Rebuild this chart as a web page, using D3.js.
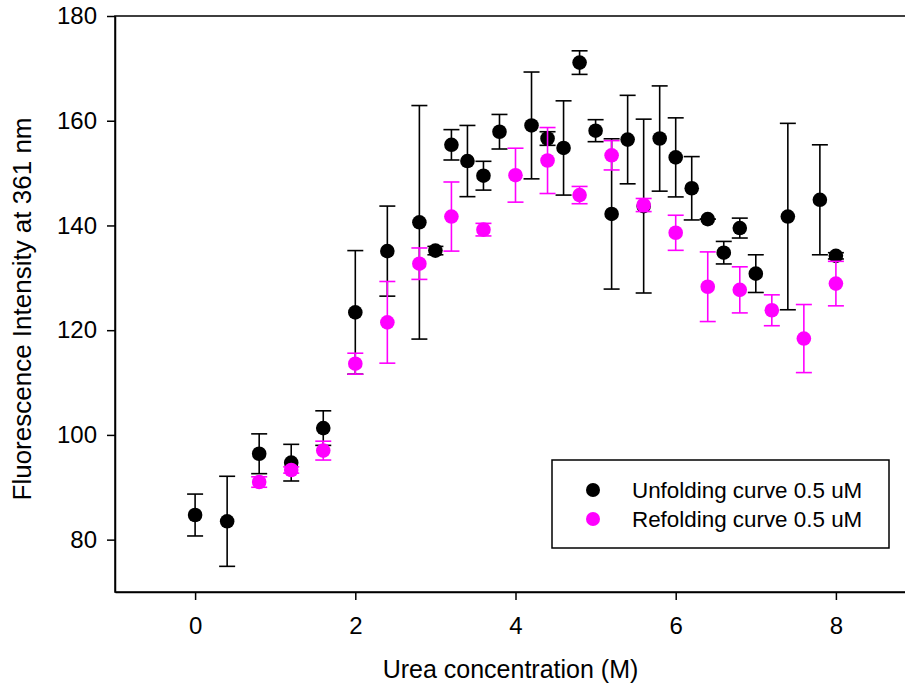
<!DOCTYPE html>
<html>
<head>
<meta charset="utf-8">
<script src="https://cdn.jsdelivr.net/npm/d3@7"></script>
<style>
    body { margin: 0; background: #fff; }
    svg { display: block; font-family: "Liberation Sans", Arial, sans-serif; }
</style>
</head>
<body>
<div id="chart"></div>
<script>
// urea concentration (M) for each series
const unfoldX = [0, 0.4, 0.8, 1.2, 1.6, 2.0, 2.4, 2.8, 3.0, 3.2, 3.4, 3.6, 3.8, 4.2, 4.4, 4.6,
    4.8, 5.0, 5.2, 5.4, 5.6, 5.8, 6.0, 6.2, 6.4, 6.6, 6.8, 7.0, 7.4, 7.8, 8.0];
const unfoldY = [84.7, 83.5, 96.4, 94.7, 101.3, 123.4, 135.1, 140.6, 135.2, 155.4, 152.3, 149.5, 157.9, 159.1, 156.6, 154.8,
    171.1, 158.1, 142.2, 156.4, 143.7, 156.6, 153.0, 147.1, 141.2, 134.8, 139.5, 130.8, 141.7, 144.9, 134.2];
const unfoldErr = [4.0, 8.6, 3.8, 3.5, 3.3, 11.8, 8.6, 22.3, 0.8, 2.9, 6.8, 2.75, 3.3, 10.2, 1.3, 9.0,
    2.25, 2.1, 14.35, 8.45, 16.6, 10.05, 7.55, 6.05, 0, 2.15, 1.9, 3.6, 17.8, 10.5, 0.6];

const refoldX = [0.8, 1.2, 1.6, 2.0, 2.4, 2.8, 3.2, 3.6, 4.0, 4.4, 4.8, 5.2, 5.6, 6.0, 6.4, 6.8, 7.2, 7.6, 8.0];
const refoldY = [91.0, 93.3, 97.0, 113.6, 121.5, 132.7, 141.7, 139.2, 149.6, 152.4, 145.8, 153.4, 143.9, 138.6,
    128.3, 127.7, 123.8, 118.4, 128.9];
const refoldErr = [1.0, 0.6, 1.8, 2.0, 7.8, 3.0, 6.6, 1.2, 5.15, 6.3, 1.65, 2.8, 1.25, 3.35, 6.65, 4.4, 2.95, 6.5, 4.25];

const xTicks = [0, 2, 4, 6, 8];
const yTicks = [80, 100, 120, 140, 160, 180];
const seriesNames = ["Unfolding curve 0.5 uM", "Refolding curve 0.5 uM"];
const seriesColors = ["#000000", "#ff00ff"];

const width = 905, height = 690;
const margin = {top: 16, left: 115};
const plotW = 801, plotH = 576;

const svg = d3.select("#chart").append("svg")
    .attr("width", width)
    .attr("height", height);

const g = svg.append("g")
    .attr("transform", "translate(" + margin.left + "," + margin.top + ")");

const x = d3.scaleLinear().domain([-1, 9]).range([0, plotW]);
const y = d3.scaleLinear().domain([70, 180]).range([plotH, 0]);

// frame
g.append("rect")
    .attr("x", 0).attr("y", 0)
    .attr("width", plotW).attr("height", plotH)
    .attr("fill", "none")
    .attr("stroke", "#000")
    .attr("stroke-width", 1.5);

const xAxis = g.append("g")
    .attr("transform", "translate(0," + plotH + ")")
    .call(d3.axisBottom(x).tickValues(xTicks).tickSize(8).tickSizeOuter(0).tickPadding(17));

const yAxis = g.append("g")
    .call(d3.axisLeft(y).tickValues(yTicks).tickSize(8).tickSizeOuter(0).tickPadding(10));

[xAxis, yAxis].forEach(a => {
    a.select(".domain").attr("stroke-width", 1.5);
    a.selectAll(".tick line").attr("stroke-width", 1.5);
    a.selectAll(".tick text")
        .attr("font-size", 24)
        .attr("font-family", "Liberation Sans, Arial, sans-serif")
        .attr("fill", "#000");
});

svg.append("text")
    .attr("x", margin.left + plotW / 2 - 5)
    .attr("y", 678)
    .attr("text-anchor", "middle")
    .attr("font-size", 25)
    .text("Urea concentration (M)");

svg.append("text")
    .attr("transform", "translate(31," + (margin.top + plotH / 2 + 5) + ") rotate(-90)")
    .attr("text-anchor", "middle")
    .attr("font-size", 26)
    .text("Fluorescence Intensity at 361 nm");

function drawSeries(xs, ys, errs, color) {
    const data = xs.map((d, i) => ({x: d, y: ys[i], e: errs[i]}));
    const s = g.append("g");
    const bars = s.selectAll(".err").data(data).enter().append("g")
        .attr("stroke", color)
        .attr("stroke-width", 1.6);
    bars.append("line")
        .attr("x1", d => x(d.x)).attr("x2", d => x(d.x))
        .attr("y1", d => y(d.y + d.e)).attr("y2", d => y(d.y - d.e));
    bars.append("line")
        .attr("x1", d => x(d.x) - 8).attr("x2", d => x(d.x) + 8)
        .attr("y1", d => y(d.y + d.e)).attr("y2", d => y(d.y + d.e));
    bars.append("line")
        .attr("x1", d => x(d.x) - 8).attr("x2", d => x(d.x) + 8)
        .attr("y1", d => y(d.y - d.e)).attr("y2", d => y(d.y - d.e));
    s.selectAll("circle").data(data).enter().append("circle")
        .attr("cx", d => x(d.x))
        .attr("cy", d => y(d.y))
        .attr("r", 7.3)
        .attr("fill", color);
}

drawSeries(unfoldX, unfoldY, unfoldErr, seriesColors[0]);
drawSeries(refoldX, refoldY, refoldErr, seriesColors[1]);

// legend
const legend = svg.append("g").attr("transform", "translate(552,460)");
legend.append("rect")
    .attr("width", 337).attr("height", 88)
    .attr("fill", "#fff")
    .attr("stroke", "#000")
    .attr("stroke-width", 1.5);
seriesNames.forEach((name, i) => {
    legend.append("circle")
        .attr("cx", 41).attr("cy", 30 + i * 29)
        .attr("r", 7)
        .attr("fill", seriesColors[i]);
    legend.append("text")
        .attr("x", 80).attr("y", 38 + i * 29)
        .attr("font-size", 22.4)
        .text(name);
});
</script>
</body>
</html>
